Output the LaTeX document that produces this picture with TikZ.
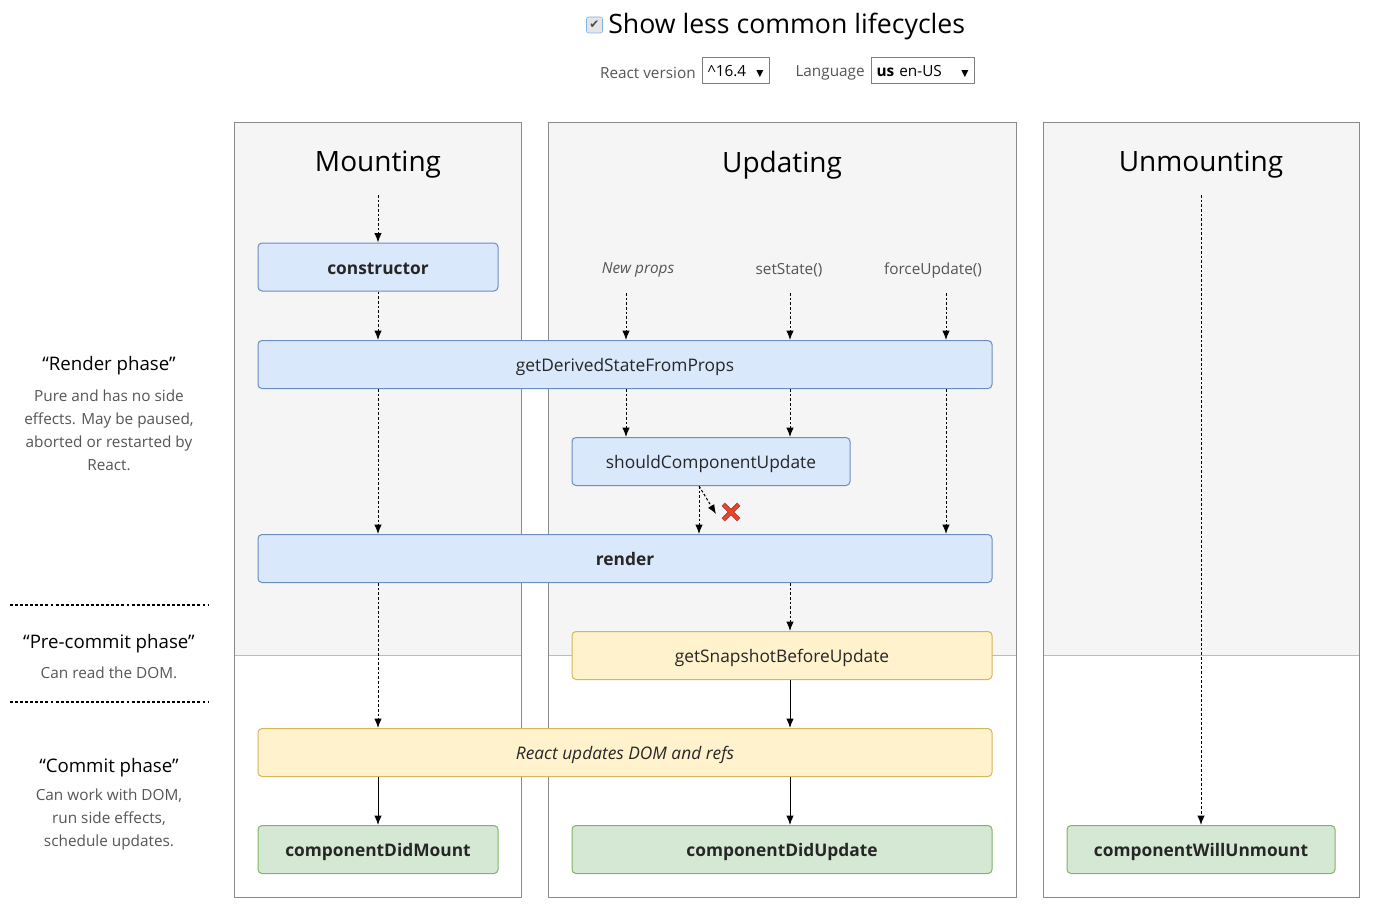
\documentclass[tikz,border=0pt]{standalone}
\usepackage{fontspec}
\setmainfont{Open Sans}
\newfontfamily\symbolfont{DejaVu Sans}
\usetikzlibrary{arrows.meta,shapes.misc}

\definecolor{panelgray}{HTML}{F5F5F5}
\definecolor{paneledge}{HTML}{8A8A8A}
\definecolor{phaseline}{HTML}{BBBBBB}
\definecolor{bluefill}{HTML}{DAE8FC}
\definecolor{blueedge}{HTML}{6C8EBF}
\definecolor{yellowfill}{HTML}{FFF2CC}
\definecolor{yellowedge}{HTML}{D6B656}
\definecolor{greenfill}{HTML}{D5E8D4}
\definecolor{greenedge}{HTML}{82B366}
\definecolor{softtext}{HTML}{555555}
\definecolor{crossred}{HTML}{E8452C}
\definecolor{crossedge}{HTML}{8B1A10}
\definecolor{tickedge}{HTML}{7EB4EA}

\newcommand{\fsize}[2]{\fontsize{#1}{#2}\selectfont}

\begin{document}
\begin{tikzpicture}[x=0.75pt,y=-0.75pt,
    method/.style={draw, rounded corners=3pt, line width=0.75pt, minimum height=36pt,
        inner sep=0pt, text height=13pt, text depth=2.5pt, font=\fsize{13pt}{16pt}, text=black!85},
    renderbox/.style={method, fill=bluefill, draw=blueedge},
    commitbox/.style={method, fill=yellowfill, draw=yellowedge},
    mountbox/.style={method, fill=greenfill, draw=greenedge, font=\fsize{13pt}{16pt}\bfseries},
    flow/.style={-{Latex[length=7pt,width=5.5pt]}, line width=0.75pt},
    lazy/.style={flow, dash pattern=on 2pt off 1.5pt},
    phasename/.style={font=\fsize{14pt}{17pt}},
    phasenote/.style={font=\fsize{11.5pt}{17.25pt}, text=softtext, align=center},
    phaserule/.style={line width=2.2pt, dash pattern=on 2.2pt off 1.6pt},
    trigger/.style={font=\fsize{11.5pt}{14pt}, text=softtext},
    column/.style={font=\fsize{21pt}{25pt}},
    picker/.style={draw=gray, line width=0.75pt, minimum height=19.5pt, inner sep=3pt,
        text height=9.5pt, text depth=1.5pt, font=\fsize{11.5pt}{14pt}}]
    \useasboundingbox (0,0) rectangle (1384,920);

    % top controls
    \node[draw=tickedge, fill=gray!20, rounded corners=1.5pt, minimum size=12pt, inner sep=0pt,
        font=\symbolfont\fsize{9pt}{9pt}, text=black!70] (tick) at (594.5,25) {✔};
    \node[anchor=west, font=\fsize{20pt}{24pt}, inner sep=0pt] (showless) at (608,27) {Show less common lifecycles};
    \node[trigger, anchor=east, inner sep=0pt] (versionlabel) at (696,73) {React version};
    \node[picker, minimum width=50.25pt, text width=42pt] (version) at (735.5,71)
        {\textasciicircum16.4\hfill{\symbolfont\fsize{7pt}{7pt}▼}};
    \node[trigger, anchor=east, inner sep=0pt] (languagelabel) at (865,73) {Language};
    \node[picker, minimum width=77.25pt, text width=69pt] (language) at (922.5,71)
        {\textbf{us} en-US\hfill{\symbolfont\fsize{7pt}{7pt}▼}};

    % the three columns
    \foreach \left/\right in {234/521, 548/1016, 1043/1359} {
        \fill[panelgray] (\left,123) rectangle (\right,655);
        \draw[phaseline, line width=0.75pt] (\left,655) -- (\right,655);
        \draw[paneledge, line width=0.75pt] (\left,123) rectangle (\right,897);
    }
    \node[column] (mounting) at (378,165) {Mounting};
    \node[column] (updating) at (782,165) {Updating};
    \node[column] (unmounting) at (1201,165) {Unmounting};

    % phases on the left
    \node[phasename] (renderphase) at (109,366) {“Render phase”};
    \node[phasenote] (rendernote) at (109,430) {Pure and has no side\\effects. May be paused,\\aborted or restarted by\\React.};
    \draw[phaserule] (10,605) -- (208,605);
    \node[phasename] (precommitphase) at (109,644) {“Pre-commit phase”};
    \node[phasenote] (precommitnote) at (109,672.5) {Can read the DOM.};
    \draw[phaserule] (10,702) -- (208,702);
    \node[phasename] (commitphase) at (109,768) {“Commit phase”};
    \node[phasenote] (commitnote) at (109,819.5) {Can work with DOM,\\run side effects,\\schedule updates.};

    % methods
    \node[renderbox, minimum width=180pt, font=\fsize{13pt}{16pt}\bfseries] (ctor) at (378,267) {constructor};
    \node[renderbox, minimum width=550.5pt] (gdsfp) at (625,364.5) {getDerivedStateFromProps};
    \node[renderbox, minimum width=208.5pt] (scu) at (711,461.5) {shouldComponentUpdate};
    \node[renderbox, minimum width=550.5pt, font=\fsize{13pt}{16pt}\bfseries] (rndr) at (625,558.5) {render};
    \node[commitbox, minimum width=315pt] (snap) at (782,655.5) {getSnapshotBeforeUpdate};
    \node[commitbox, minimum width=550.5pt, font=\fsize{13pt}{16pt}\itshape] (dom) at (625,752.5) {React updates DOM and refs};
    \node[mountbox, minimum width=180pt] (didmount) at (378,849.5) {componentDidMount};
    \node[mountbox, minimum width=315pt] (didupdate) at (782,849.5) {componentDidUpdate};
    \node[mountbox, minimum width=201pt] (willunmount) at (1201,849.5) {componentWillUnmount};

    % what starts an update
    \node[trigger, font=\fsize{11.5pt}{14pt}\itshape] (newprops) at (638,270) {New props};
    \node[trigger] (setstate) at (789,270) {setState()};
    \node[trigger] (forceupdate) at (933,270) {forceUpdate()};
    \coordinate (mstart) at (378,195);
    \coordinate (ustart) at (1201,195);
    \coordinate (np) at (626,293);
    \coordinate (ss) at (790,293);
    \coordinate (fu) at (946,293);
    \coordinate (cut) at (699,0);
    \coordinate (veto) at (716,514);
    \node[cross out, draw=crossedge, double=crossred, double distance=2.4pt, line width=0.5pt,
        minimum size=11pt, inner sep=0pt] (nope) at (731,512) {};

    % mounting
    \draw[lazy] (mstart) -- (ctor);
    \draw[lazy] (ctor) -- (gdsfp.north -| ctor);
    \draw[lazy] (gdsfp.south -| ctor) -- (rndr.north -| ctor);
    \draw[lazy] (rndr.south -| ctor) -- (dom.north -| ctor);
    \draw[flow] (dom.south -| ctor) -- (didmount);

    % updating
    \draw[lazy] (np) -- (gdsfp.north -| np);
    \draw[lazy] (ss) -- (gdsfp.north -| ss);
    \draw[lazy] (fu) -- (gdsfp.north -| fu);
    \draw[lazy] (gdsfp.south -| np) -- (scu.north -| np);
    \draw[lazy] (gdsfp.south -| ss) -- (scu.north -| ss);
    \draw[lazy] (gdsfp.south -| fu) -- (rndr.north -| fu);
    \draw[lazy] (scu.south -| cut) -- (rndr.north -| cut);
    \draw[lazy] (scu.south -| cut) -- (veto);
    \draw[lazy] (rndr.south -| ss) -- (snap.north -| ss);
    \draw[flow] (snap.south -| ss) -- (dom.north -| ss);
    \draw[flow] (dom.south -| ss) -- (didupdate.north -| ss);

    % unmounting
    \draw[lazy] (ustart) -- (willunmount);
\end{tikzpicture}
\end{document}
